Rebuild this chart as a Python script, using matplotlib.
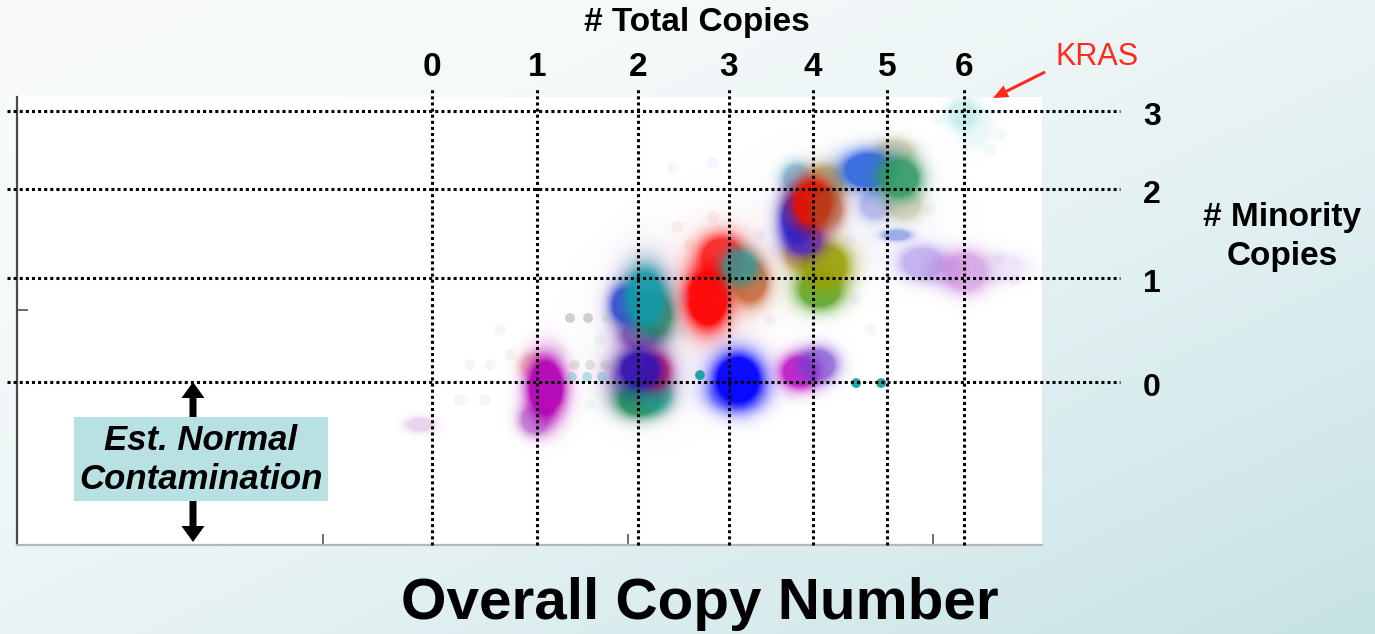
import numpy as np
import matplotlib
matplotlib.use("Agg")
import matplotlib.pyplot as plt
from matplotlib.colors import to_rgb
from matplotlib.patches import Rectangle, FancyArrow

plt.rcParams['font.family'] = ['Liberation Sans', 'DejaVu Sans']

# ---- grid: total copies (x) and minority copies (y) in overall copy-number units
total_copies = [0, 1, 2, 3, 4, 5, 6]
total_copy_x = [-0.643, -0.298, 0.033, 0.331, 0.607, 0.849, 1.102]
minority_copies = [3, 2, 1, 0]
minority_y = [1.847, 1.515, 1.136, 0.694]

# ---- segment clusters (centre, spread, colour, opacity), drawn back to front
blob_x = [0.080, 0.330, 0.720,
          -0.682, -0.305, -0.315, -0.269,
          0.056, 0.039, -0.007, 0.089, 0.056,
          0.039, 0.039, 0.089, 0.092, 0.039,
          0.308, 0.262, 0.400, 0.367,
          0.351, 0.361,
          0.564, 0.623,
          0.564, 0.630, 0.646,
          0.554, 0.652, 0.580, 0.557, 0.607, 0.656,
          0.875, 0.810, 0.908, 0.787, 0.892, 0.882,
          0.967, 1.039, 1.108, 1.220,
          1.138, 1.098]
blob_y = [0.900, 1.150, 1.400,
          0.511, 0.532, 0.766, 0.668,
          0.990, 0.894, 1.021, 0.979, 1.055,
          0.702, 0.617, 0.638, 0.736, 0.745,
          1.221, 1.051, 1.120, 1.185,
          0.638, 0.702,
          0.736, 0.766,
          1.234, 1.085, 1.191,
          1.562, 1.545, 1.306, 1.391, 1.455, 1.426,
          1.672, 1.447, 1.447, 1.596, 1.562, 1.319,
          1.200, 1.170, 1.162, 1.179,
          1.787, 1.838]
blob_sx = [0.110, 0.120, 0.150,
           0.030, 0.032, 0.025, 0.040,
           0.060, 0.040, 0.032, 0.037, 0.040,
           0.062, 0.048, 0.032, 0.028, 0.044,
           0.048, 0.047, 0.038, 0.036,
           0.055, 0.052,
           0.040, 0.040,
           0.032, 0.048, 0.052,
           0.030, 0.040, 0.040, 0.036, 0.043, 0.032,
           0.040, 0.032, 0.036, 0.055, 0.044, 0.030,
           0.047, 0.040, 0.047, 0.055,
           0.036, 0.030]
blob_sy = [0.180, 0.160, 0.140,
           0.020, 0.040, 0.030, 0.085,
           0.130, 0.040, 0.052, 0.062, 0.078,
           0.072, 0.046, 0.040, 0.046, 0.052,
           0.062, 0.086, 0.062, 0.046,
           0.040, 0.072,
           0.046, 0.046,
           0.040, 0.052, 0.062,
           0.040, 0.046, 0.046, 0.072, 0.066, 0.052,
           0.036, 0.040, 0.040, 0.052, 0.056, 0.015,
           0.046, 0.040, 0.056, 0.040,
           0.055, 0.040]
blob_color = ['#c8b0d8', '#f0b0b0', '#b8b8f0',
              '#d0a0e0', '#a040c0', '#e07050', '#b400b4',
              '#9060b0', '#8030a0', '#2030d0', '#208050', '#109aa8',
              '#7020a0', '#108a50', '#20a090', '#d01050', '#3010b0',
              '#ff1010', '#ff0000', '#c04a10', '#20a0a0',
              '#3030ff', '#0000ff',
              '#c000c0', '#7040d0',
              '#c08020', '#50a020', '#9aa000',
              '#40a0c0', '#a0a040', '#6020c0', '#2020d0', '#e81000', '#a05020',
              '#b0a070', '#8080e0', '#a0a060', '#2a60e0', '#309a60', '#6080e0',
              '#8060e0', '#b080e0', '#c060d0', '#c0a0e8',
              '#a0e0e0', '#70d0d0']
blob_alpha = [0.12, 0.12, 0.12,
              0.45, 0.6, 0.4, 0.95,
              0.35, 0.7, 0.8, 0.8, 0.9,
              0.5, 0.85, 0.7, 0.8, 0.9,
              0.85, 0.95, 0.75, 0.75,
              0.4, 0.95,
              0.85, 0.7,
              0.6, 0.85, 0.9,
              0.6, 0.7, 0.8, 0.9, 0.95, 0.6,
              0.5, 0.5, 0.4, 0.9, 0.9, 0.6,
              0.45, 0.3, 0.5, 0.25,
              0.2, 0.3]

# ---- individual segments shown as distinct dots
dot_x = [0.236, 0.748, 0.830, -0.184, -0.134, -0.085,
         -0.190, -0.131, -0.069, -0.174, -0.125, -0.075]
dot_y = [0.723, 0.689, 0.689, 0.715, 0.715, 0.715,
         0.966, 0.966, 0.966, 0.766, 0.766, 0.766]
dot_color = ['#1aa0a0', '#1aa0a0', '#1aa0a0', '#60c0c0', '#60c0c0', '#60c0c0',
             '#809080', '#809080', '#a0c0a0', '#90a090', '#90a090', '#90a090']
dot_alpha = [0.95, 0.95, 0.95, 0.45, 0.45, 0.45, 0.4, 0.4, 0.25, 0.25, 0.25, 0.25]

# ---- sparse low-weight segments
haze_x = [0.161, 0.279, 0.203, 0.148, 0.279, 0.187, 0.180, 0.138, 0.433, 0.482,
          0.466, -0.092, -0.223, -0.043, -0.518, -0.452, -0.387, -0.420, -0.551,
          -0.469, 0.679, 0.728, 0.744, 0.793, 0.990, 1.220, 1.269, 1.187, 1.023,
          1.220, 0.433, 0.531, -0.223, -0.125]
haze_y = [1.353, 1.396, 1.277, 1.604, 1.626, 1.051, 0.902, 0.936, 1.319, 1.255,
          0.957, 0.872, 0.830, 0.766, 0.766, 0.766, 0.809, 0.915, 0.617,
          0.617, 1.362, 1.298, 1.043, 0.915, 1.426, 1.213, 1.128, 1.681, 1.809,
          1.745, 0.617, 0.638, 0.574, 0.596]
haze_color = ['#f08080', '#f08080', '#f08080', '#c0b0f0', '#c0b0f0', '#b060c0',
              '#a0d0a0', '#a0d0a0', '#a0a0f0', '#c0b0f0', '#c0b0f0', '#a0d0a0',
              '#d0c0a0', '#a0b0a0', '#b0b0b0', '#b0b0b0', '#b0b0b0', '#b0b0b0',
              '#b0b0b0', '#b0b0b0', '#c0b0f0', '#c0b0f0', '#a0b0f0', '#c0b0f0',
              '#c0c0c0', '#c0b0f0', '#c0b0f0', '#a0e0e0', '#a0e0e0', '#a0e0e0',
              '#a0a0f0', '#c0b0f0', '#f0a0b0', '#c0d0c0']

W, H = 1375, 634
fig = plt.figure(figsize=(W / 100, H / 100), dpi=100)

# slide background: soft diagonal white-to-teal wash
bg = fig.add_axes([0, 0, 1, 1], zorder=0)
gx, gy = np.meshgrid(np.linspace(0, 1, W), np.linspace(0, 1, H))
t = ((gx + gy) / 2) ** 1.6
c0 = np.array([250, 252, 252]) / 255
c1 = np.array([198, 226, 229]) / 255
bg.imshow(c0 + (c1 - c0) * t[..., None], aspect='auto', extent=(0, W, H, 0))
bg.set_xlim(0, W)
bg.set_ylim(H, 0)
bg.axis('off')

# main scatter panel
xlim = (-2.0033, 1.3574)
ylim = (0.0, 1.906)
ax = fig.add_axes([17 / W, 89 / H, 1025 / W, 448 / H], zorder=1)
ax.set_facecolor('white')
ax.set_xlim(*xlim)
ax.set_ylim(*ylim)
for side in ('top', 'right'):
    ax.spines[side].set_visible(False)
ax.spines['left'].set_color('#4a4a4a')
ax.spines['left'].set_linewidth(1.6)
ax.spines['bottom'].set_color('#b5b5b5')
ax.spines['bottom'].set_linewidth(1.6)
ax.set_xticks([-1, 0, 1])
ax.set_yticks([1.0])
ax.tick_params(axis='both', direction='in', length=8, width=1.2, colors='#555555',
               labelbottom=False, labelleft=False)

# soft density rendering of the clusters
nx, ny = 1025, 448
PX, PY = np.meshgrid(np.linspace(xlim[0], xlim[1], nx), np.linspace(ylim[0], ylim[1], ny))
acc_rgb = np.zeros((ny, nx, 3))
acc_a = np.zeros((ny, nx))
for x, y, sx, sy, col, al in zip(blob_x, blob_y, blob_sx, blob_sy, blob_color, blob_alpha):
    r2 = ((PX - x) / sx) ** 2 + ((PY - y) / sy) ** 2
    a = al * np.clip(2.3 * np.exp(-0.5 * r2), 0, 1)
    acc_rgb = np.array(to_rgb(col)) * a[..., None] + acc_rgb * (1 - a[..., None])
    acc_a = a + acc_a * (1 - a)
img = np.dstack([acc_rgb / np.maximum(acc_a, 1e-6)[..., None], acc_a])
ax.imshow(img, extent=(*xlim, *ylim), origin='lower', aspect='auto',
          interpolation='bilinear', zorder=2)

ax.scatter(haze_x, haze_y, s=70, c=haze_color, alpha=0.12, linewidths=0, zorder=2)
ax.scatter(dot_x, dot_y, s=50, c=dot_color, alpha=dot_alpha, linewidths=0, zorder=3)

# dotted copy-number grid, running past the panel edges
dots = dict(color='black', lw=2.2, linestyle=(0, (1, 1)), dash_capstyle='butt',
            clip_on=False, zorder=4)
for x in total_copy_x:
    ax.plot([x, x], [0, 1.945], **dots)
for y in minority_y:
    ax.plot([-2.036, 1.613], [y, y], **dots)

for n, x in zip(total_copies, total_copy_x):
    ax.text(x, 2.03, str(n), ha='center', va='center', fontsize=24,
            fontweight='bold', clip_on=False)
for n, y in zip(minority_copies, minority_y):
    ax.text(1.718, y - 0.025, str(n), ha='center', va='center', fontsize=23,
            fontweight='bold', clip_on=False)

# annotation layer in slide pixels
ov = fig.add_axes([0, 0, 1, 1], zorder=5)
ov.set_xlim(0, W)
ov.set_ylim(H, 0)
ov.axis('off')
ov.patch.set_alpha(0)

ov.text(697, 22, '# Total Copies', ha='center', va='center', fontsize=24, fontweight='bold')
ov.text(1282, 237, '# Minority\nCopies', ha='center', va='center', fontsize=24,
        fontweight='bold', linespacing=1.3)
ov.text(700, 604, 'Overall Copy Number', ha='center', va='center', fontsize=42,
        fontweight='bold')
ov.text(1097, 57, 'KRAS', ha='center', va='center', fontsize=22, color='#ff2a1a')
ov.add_patch(FancyArrow(1045, 72, -52, 26, width=3, head_width=13, head_length=15,
                        length_includes_head=True, color='#ff2a1a', lw=0))

ov.add_patch(Rectangle((74, 417), 254, 84, facecolor='#b9e0e3', edgecolor='none'))
ov.text(201, 460, 'Est. Normal\nContamination', ha='center', va='center', fontsize=25,
        fontweight='bold', fontstyle='italic', linespacing=1.2)
ov.add_patch(FancyArrow(193, 417, 0, -35, width=7, head_width=23, head_length=16,
                        length_includes_head=True, color='black', lw=0))
ov.add_patch(FancyArrow(193, 501, 0, 41, width=7, head_width=23, head_length=16,
                        length_includes_head=True, color='black', lw=0))

fig.savefig('out.png', dpi=100)
